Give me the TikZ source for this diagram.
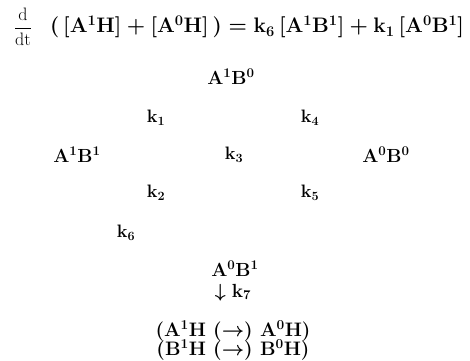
\RequirePackage{fix-cm}
\documentclass[tikz,border=0pt]{standalone}
\usepackage{amsmath}
\usetikzlibrary{positioning}

\begin{document}
\begin{tikzpicture}[x=1pt, y=-1pt, sp/.style={font=\fontsize{19}{22}\selectfont\bfseries\boldmath, inner sep=0pt}, rate/.style={font=\fontsize{18}{21}\selectfont\bfseries\boldmath, inner sep=0pt}]
\useasboundingbox (0,0) rectangle (470,360);
\node[font=\fontsize{18}{21}\selectfont, inner sep=0pt] (deriv) at (23,27) {$\dfrac{\mathrm{d}}{\mathrm{dt}}$};
\node[sp, font=\fontsize{21}{24}\selectfont\bfseries\boldmath] (eq) at (257,27) {$(\,[\mathbf{A^1H}]+[\mathbf{A^0H}]\,)=\mathbf{k_6}\,[\mathbf{A^1B^1}]+\mathbf{k_1}\,[\mathbf{A^0B^1}]$};
\node[sp] (a1b0) at (231,77) {$\mathbf{A^1B^0}$};
\node[rate] (k1) at (156,118) {$\mathbf{k_1}$};
\node[rate] (k4) at (310,118) {$\mathbf{k_4}$};
\node[sp] (a1b1) at (77,155) {$\mathbf{A^1B^1}$};
\node[rate] (k3) at (234,155) {$\mathbf{k_3}$};
\node[sp] (a0b0) at (386,155) {$\mathbf{A^0B^0}$};
\node[rate] (k2) at (156,193) {$\mathbf{k_2}$};
\node[rate] (k5) at (310,193) {$\mathbf{k_5}$};
\node[rate] (k6) at (126,233) {$\mathbf{k_6}$};
\node[sp, anchor=base] (a0b1) at (235,276) {$\mathbf{A^0B^1}$};
\node[sp, anchor=base] (k7) at (233,297) {$\downarrow\mathbf{k_7}$};
\node[sp, font=\fontsize{19.5}{22}\selectfont\bfseries\boldmath] (prodA) at (233,331) {$(\mathbf{A^1H}\ (\rightarrow)\ \mathbf{A^0H})$};
\node[sp, font=\fontsize{19.5}{22}\selectfont\bfseries\boldmath] (prodB) at (233,350) {$(\mathbf{B^1H}\ (\rightarrow)\ \mathbf{B^0H})$};
\end{tikzpicture}
\end{document}
